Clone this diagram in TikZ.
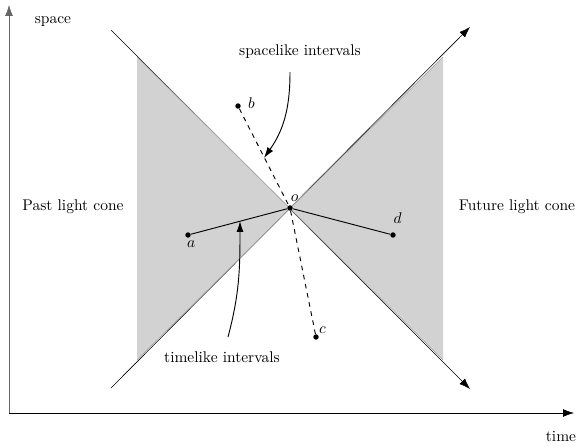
\documentclass[tikz,border=0pt]{standalone}
\usepackage{amsmath}
\usepackage{tikz}
\usetikzlibrary{arrows.meta, positioning}

\begin{document}
\begin{tikzpicture}[x=0.645pt, y=-0.645pt,
    event/.style={circle, fill=black, inner sep=0pt, minimum size=3.5pt},
    conefill/.style={fill=gray!35},
    coneedge/.style={draw=gray!70, thin},
    tipped/.style={-{Latex[length=7pt, width=5pt]}},
    pointer/.style={-{Latex[length=7pt, width=4.5pt]}, semithick}]
    \useasboundingbox (0,0) rectangle (577,447);

    % axes
    \coordinate (origin) at (9,413);
    \coordinate (spacetop) at (9,5);
    \coordinate (timeend) at (574,413);
    \draw[tipped, gray!80!black] (origin) -- (spacetop);
    \draw[tipped] (origin) -- (timeend);
    \node (space) at (53,22) {space};
    \node (time) at (561,436) {time};

    % light cone
    \coordinate (pastup) at (111,30);
    \coordinate (pastdown) at (111,388);
    \coordinate (futdown) at (470,389);
    \coordinate (futup) at (470,27);
    \draw[tipped, thin] (pastup) -- (futdown);
    \draw[tipped, thin] (pastdown) -- (futup);
    \fill[conefill] (137,57) -- (290,208) -- (137,360) -- cycle;
    \fill[conefill] (443,57) -- (290,208) -- (443,360) -- cycle;
    \draw[coneedge] (137,57) -- (443,360);
    \draw[coneedge] (137,360) -- (443,57);
    \node (past) at (73,207) {Past light cone};
    \node (future) at (517,207) {Future light cone};

    % events
    \node[event, label={[xshift=3pt, yshift=-1pt]above:$o$}] (o) at (290,208) {};
    \node[event, label={[xshift=2pt, label distance=-2pt]below:$a$}] (a) at (188,235) {};
    \node[event, label={[xshift=1pt, yshift=2pt]right:$b$}] (b) at (238,106) {};
    \node[event, label={[label distance=-4pt]above right:$c$}] (c) at (316,337) {};
    \node[event, label={[xshift=3pt, label distance=2pt]above:$d$}] (d) at (393,235) {};

    \draw[semithick] (a) -- (o) -- (d);
    \draw[semithick, dashed] (b) -- (o) -- (c);

    % interval labels
    \node (spacelike) at (300,52) {spacelike intervals};
    \node (timelike) at (222,357) {timelike intervals};
    \coordinate (spacehit) at (264,158);
    \coordinate (timehit) at (240,221);
    \draw[pointer] (290,72) to[out=-90, in=55] (spacehit);
    \draw[pointer] (228,337) to[out=75, in=-90] (timehit);
\end{tikzpicture}
\end{document}
